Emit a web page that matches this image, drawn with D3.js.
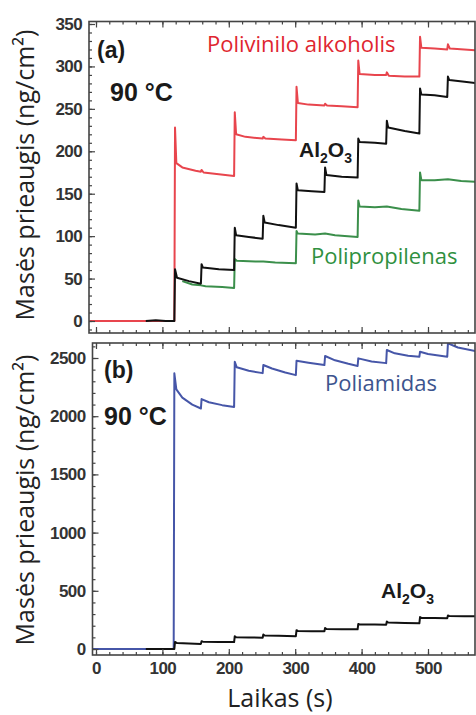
<!DOCTYPE html>
<html>
<head>
<meta charset="utf-8">
<script src="https://cdn.jsdelivr.net/npm/d3@7"></script>
<style>
  html, body { margin: 0; padding: 0; background: #fff; overflow: hidden; }
  svg { display: block; }
  .tick text { font-family: "Liberation Sans Narrow", "Liberation Sans", Arial, sans-serif; font-weight: bold; font-size: 17px; fill: #333; letter-spacing: -0.6px; }
  .tick line { stroke: #444; stroke-width: 1.2; }
</style>
</head>
<body>
<svg id="chart" width="476" height="715"></svg>
<script>
// Mass gain (ng/cm²) vs. time (s) at 90 °C, pairs of [time, mass]
const pvaPoints = [[-10,0],[118,0],[119,228],[121,186],[130,181],[150,177],[158,176],[159,178],[162,175],[185,173],[208,171],
  [209,246],[211,220],[225,217],[251,215],[252,217],[255,215],[280,214],[301,213],
  [302,276],[304,257],[320,255],[344,254],[345,256],[348,254],[370,253],[394,252],
  [395,307],[397,291],[420,290],[437,290],[438,293],[441,289],[465,288],[487,288],
  [488,335],[490,322],[510,321],[529,320],[530,326],[533,321],[575,319]];

const aloPoints = [[75,0],[90,1],[105,0],[118,0],[119,61],[122,51],[140,47],[158,44],
  [159,67],[161,63],[185,61],[208,60],[209,110],[211,101],[230,99],[251,97],
  [252,124],[254,116],[275,113],[301,110],[302,162],[304,154],[325,153],[344,152],
  [345,181],[347,172],[370,170],[394,169],[395,215],[397,211],[420,210],[437,209],
  [438,236],[440,228],[465,224],[487,221],[488,274],[490,267],[510,266],[529,264],
  [530,288],[532,284],[555,282],[575,280]];

const ppPoints = [[130,47],[145,43],[158,42],[165,41],[190,40],[208,39],
  [209,73],[212,71],[240,70],[252,70],[270,69],[301,68],
  [302,106],[304,103],[330,102],[345,103],[360,101],[394,99],
  [395,142],[397,135],[420,134],[438,135],[460,132],[487,130],
  [488,175],[490,166],[510,166],[530,167],[550,165],[575,164]];

const paPoints = [[-10,0],[117,0],[118,2368],[121,2230],[130,2160],[145,2100],[158,2066],
  [159,2147],[170,2120],[190,2095],[208,2080],[209,2468],[212,2420],[230,2390],[251,2370],
  [252,2440],[265,2410],[285,2375],[301,2353],[302,2477],[320,2460],[344,2440],
  [345,2517],[360,2480],[380,2450],[394,2431],[395,2497],[415,2470],[437,2456],
  [438,2569],[450,2540],[470,2520],[487,2511],[488,2554],[500,2535],[529,2511],
  [530,2626],[545,2590],[575,2555]];

// Tick values
const xMajorTicks = [0, 100, 200, 300, 400, 500];
const xMinorTicks = d3.range(0, 580, 20);
const yTopMajorTicks = [0, 50, 100, 150, 200, 250, 300, 350];
const yTopMinorTicks = d3.range(-10, 360, 10);
const yBotMajorTicks = [0, 500, 1000, 1500, 2000, 2500];
const yBotMinorTicks = d3.range(0, 2700, 100);

const svg = d3.select("#chart");
const intFmt = d3.format("d");

// Shared time scale
const x = d3.scaleLinear().domain([0, 500]).range([96, 428]);

const panels = [
  { id: "a", left: 89, right: 475, top: 21.5, bottom: 333,
    y: d3.scaleLinear().domain([0, 350]).range([321, 24]),
    major: yTopMajorTicks, minor: yTopMinorTicks, xLabels: false },
  { id: "b", left: 92.5, right: 475, top: 343, bottom: 655,
    y: d3.scaleLinear().domain([0, 2500]).range([649, 358]),
    major: yBotMajorTicks, minor: yBotMinorTicks, xLabels: true }
];

panels.forEach(p => {
  const g = svg.append("g");
  const clipId = "clip-" + p.id;
  svg.append("clipPath").attr("id", clipId)
    .append("rect").attr("x", p.left).attr("y", p.top)
    .attr("width", p.right - p.left).attr("height", p.bottom - p.top);
  p.g = g;
  p.plot = g.append("g").attr("clip-path", `url(#${clipId})`);

  const inY = v => v >= p.y.invert(p.bottom) && v <= p.y.invert(p.top);
  const inX = v => x(v) >= p.left + 1 && x(v) <= p.right - 1;

  // left axis: major + minor, ticks pointing inward
  g.append("g").attr("transform", `translate(${p.left},0)`)
    .call(d3.axisLeft(p.y).tickValues(p.minor.filter(inY)).tickSize(-3).tickFormat(""))
    .call(a => a.select(".domain").remove());
  g.append("g").attr("transform", `translate(${p.left},0)`)
    .call(d3.axisLeft(p.y).tickValues(p.major.filter(inY)).tickSize(-6).tickPadding(7).tickFormat(intFmt))
    .call(a => a.select(".domain").remove());

  // bottom axis
  g.append("g").attr("transform", `translate(0,${p.bottom})`)
    .call(d3.axisBottom(x).tickValues(xMinorTicks.filter(inX)).tickSize(-3).tickFormat(""))
    .call(a => a.select(".domain").remove());
  g.append("g").attr("transform", `translate(0,${p.bottom})`)
    .call(d3.axisBottom(x).tickValues(xMajorTicks.filter(inX)).tickSize(-6).tickPadding(7)
      .tickFormat(p.xLabels ? intFmt : ""))
    .call(a => a.select(".domain").remove());

  // top axis (ticks only)
  g.append("g").attr("transform", `translate(0,${p.top})`)
    .call(d3.axisTop(x).tickValues(xMinorTicks.filter(inX)).tickSize(-3).tickFormat(""))
    .call(a => a.select(".domain").remove());
  g.append("g").attr("transform", `translate(0,${p.top})`)
    .call(d3.axisTop(x).tickValues(xMajorTicks.filter(inX)).tickSize(-6).tickFormat(""))
    .call(a => a.select(".domain").remove());

  // frame
  g.append("rect").attr("x", p.left).attr("y", p.top)
    .attr("width", p.right - p.left).attr("height", p.bottom - p.top)
    .attr("fill", "none").attr("stroke", "#444").attr("stroke-width", 1.6);
});

function drawSeries(p, data, color) {
  const line = d3.line().x(d => x(d[0])).y(d => p.y(d[1]));
  p.plot.append("path").datum(data)
    .attr("d", line).attr("fill", "none")
    .attr("stroke", color).attr("stroke-width", 2)
    .attr("stroke-linejoin", "round");
}

const [pa, pb] = panels;
drawSeries(pa, ppPoints, "#3b8f4b");
drawSeries(pa, pvaPoints, "#e8454d");
drawSeries(pa, aloPoints, "#111");
drawSeries(pb, paPoints, "#4656a8");
drawSeries(pb, aloPoints, "#111");

// annotations
const boldFont = "'Liberation Sans', Arial, sans-serif";
const sansFont = "'Open Sans', sans-serif";

function label(txt, xPos, yPos, opts) {
  return svg.append("text").attr("x", xPos).attr("y", yPos)
    .attr("font-family", opts.family).attr("font-size", opts.size)
    .attr("font-weight", opts.weight || "normal")
    .attr("fill", opts.color || "#222").text(txt);
}

function alo(xPos, yPos) {
  const t = svg.append("text").attr("x", xPos).attr("y", yPos)
    .attr("font-family", boldFont).attr("font-weight", "bold")
    .attr("font-size", 21).attr("fill", "#1a1a1a");
  t.append("tspan").text("Al");
  t.append("tspan").attr("font-size", 14).attr("dy", 6).text("2");
  t.append("tspan").attr("dy", -6).text("O");
  t.append("tspan").attr("font-size", 14).attr("dy", 6).text("3");
}

label("(a)", 97, 58, { family: boldFont, size: 23, weight: "bold", color: "#1a1a1a" });
label("90 °C", 110, 101, { family: boldFont, size: 25, weight: "bold", color: "#1a1a1a" });
label("Polivinilo alkoholis", 207, 52, { family: sansFont, size: 22, color: "#e0262f" });
alo(299, 157);
label("Polipropilenas", 311, 264, { family: sansFont, size: 22, color: "#2f9040" });

label("(b)", 104, 378, { family: boldFont, size: 23, weight: "bold", color: "#1a1a1a" });
label("90 °C", 104, 425, { family: boldFont, size: 25, weight: "bold", color: "#1a1a1a" });
label("Poliamidas", 325, 391, { family: sansFont, size: 22, color: "#3d548e" });
alo(381, 598);

// axis titles
const yTitle = "Masės prieaugis (ng/cm²)";
svg.append("text").attr("transform", "translate(34,175) rotate(-90)")
  .attr("text-anchor", "middle").attr("font-family", sansFont)
  .attr("font-size", 25).attr("fill", "#222").text(yTitle);
svg.append("text").attr("transform", "translate(34,500) rotate(-90)")
  .attr("text-anchor", "middle").attr("font-family", sansFont)
  .attr("font-size", 25).attr("fill", "#222").text(yTitle);
svg.append("text").attr("x", 280).attr("y", 707)
  .attr("text-anchor", "middle").attr("font-family", sansFont)
  .attr("font-size", 25).attr("fill", "#222").text("Laikas (s)");
</script>
</body>
</html>
